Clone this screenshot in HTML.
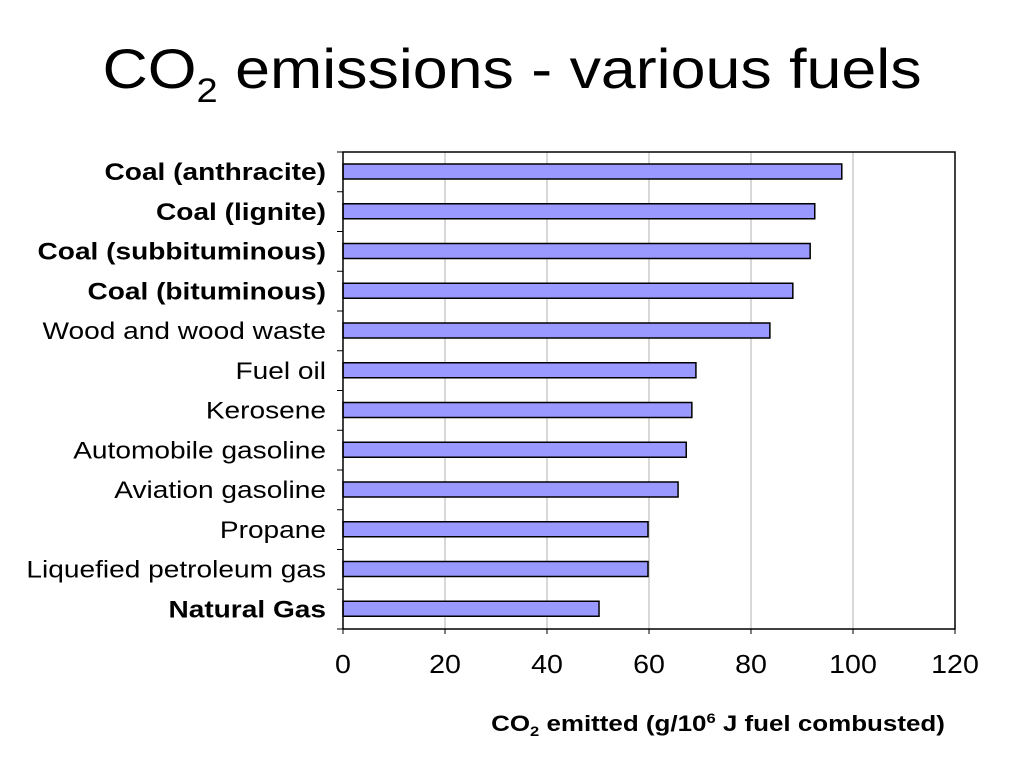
<!DOCTYPE html>
<html><head><meta charset="utf-8"><style>
body{margin:0;background:#fff;font-family:"Liberation Sans",sans-serif;}
</style></head><body>
<svg width="1024" height="768" xmlns="http://www.w3.org/2000/svg">
<text transform="translate(512,88) scale(1.12,1)" x="0" y="0" text-anchor="middle" font-size="56" font-family="Liberation Sans, sans-serif">CO<tspan font-size="34" dy="14">2</tspan><tspan dy="-14"> emissions - various fuels</tspan></text>
<g id="plot"></g>
<text transform="translate(718,731) scale(1.18,1)" x="0" y="0" text-anchor="middle" font-size="22" font-weight="bold" font-family="Liberation Sans, sans-serif">CO<tspan font-size="14" dy="5">2</tspan><tspan dy="-5"> emitted  (g/10</tspan><tspan font-size="14" dy="-8">6</tspan><tspan dy="8"> J fuel combusted)</tspan></text>
</svg>
<script>
const categories=["Coal (anthracite)","Coal (lignite)","Coal (subbituminous)","Coal (bituminous)","Wood and wood waste","Fuel oil","Kerosene","Automobile gasoline","Aviation gasoline","Propane","Liquefied petroleum gas","Natural Gas"];
const boldFlags=[1,1,1,1,0,0,0,0,0,0,0,1];
const values=[97.8,92.5,91.6,88.2,83.7,69.2,68.4,67.3,65.7,59.8,59.8,50.2];
const ticks=[0,20,40,60,80,100,120];
const NS="http://www.w3.org/2000/svg";
const g=document.getElementById('plot');
const L=343,R=955,T=152,B=629,xmax=120;
const x=v=>L+(R-L)*v/xmax;
const slot=(B-T)/categories.length;
const y=i=>T+i*slot;
function mk(t,a){const e=document.createElementNS(NS,t);for(const k in a)e.setAttribute(k,a[k]);g.appendChild(e);return e;}
ticks.forEach(t=>{
 if(t>0&&t<xmax){const l=mk('line',{x1:x(t),x2:x(t),y1:T,y2:B,stroke:'#b0b0b0','stroke-width':1});
 
 }
 const tk=mk('line',{x1:x(t),x2:x(t),y1:B,y2:B+5,stroke:'#000','stroke-width':1});
 
 
 const tl=mk('text',{transform:'translate('+x(t)+',673) scale(1.1,1)',x:0,y:0,'text-anchor':'middle','font-size':26,'font-family':'Liberation Sans, sans-serif'});
 tl.textContent=t;
 
 
});
for(let i=0;i<=categories.length;i++){
 const tk=mk('line',{x1:L-6,x2:L,y1:y(i),y2:y(i),stroke:'#000','stroke-width':1});
 
 
}
categories.forEach((c,i)=>{
 const r=mk('rect',{x:L,y:y(i)+12,width:x(values[i])-L,height:15,fill:'#9999ff',stroke:'#000','stroke-width':1.5});
 
 
 const t=mk('text',{transform:'translate(326,'+(y(i)+28)+') scale(1.17,1)',x:0,y:0,'text-anchor':'end','font-size':24,'font-weight':boldFlags[i]?'bold':'normal','font-family':'Liberation Sans, sans-serif'});
 t.textContent=c;
 
 
});
const frame=mk('rect',{x:L,y:T,width:R-L,height:B-T,fill:'none',stroke:'#000','stroke-width':1.5});


</script>
</body></html>
